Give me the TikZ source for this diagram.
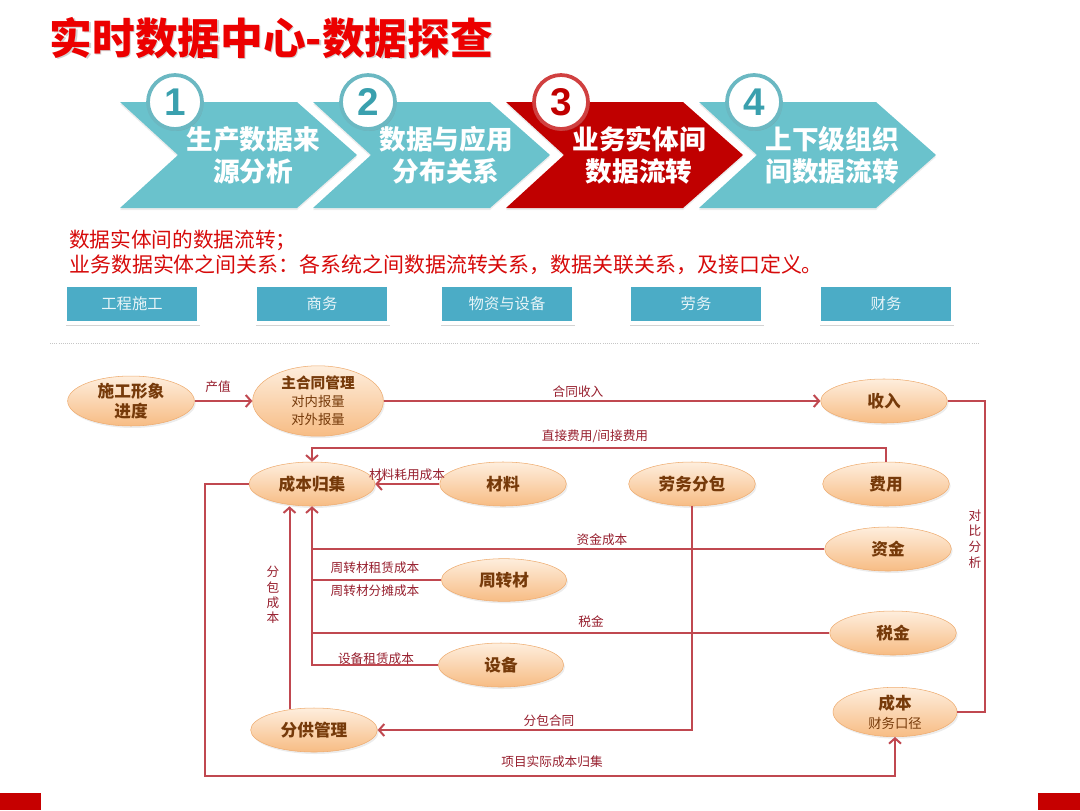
\documentclass[tikz,border=0pt]{standalone}
\usepackage{fontspec}
\setmainfont{Noto Sans CJK SC}
\newfontfamily\numfont{Liberation Sans}
\usetikzlibrary{calc,shapes.geometric,shadows,arrows.meta}

\definecolor{titlered}{RGB}{236,0,0}
\definecolor{chevteal}{RGB}{106,194,204}
\definecolor{chevred}{RGB}{192,0,0}
\definecolor{numteal}{RGB}{58,160,174}
\definecolor{tabblue}{RGB}{75,172,198}
\definecolor{notered}{RGB}{214,10,10}
\definecolor{linered}{RGB}{192,72,80}
\definecolor{labred}{RGB}{150,30,45}
\definecolor{ovaltop}{RGB}{254,238,221}
\definecolor{ovalbot}{RGB}{247,188,132}
\definecolor{ovalline}{RGB}{238,172,112}
\definecolor{ovaltext}{RGB}{118,58,10}

\newcommand{\ovalsub}[1]{{\fontsize{10}{13}\selectfont\mdseries #1}}

\tikzset{
  oval/.style={ellipse, draw=ovalline, top color=ovaltop, bottom color=ovalbot,
    minimum width=95pt, minimum height=33pt, inner sep=0pt, align=center,
    font=\fontsize{12.5}{14.5}\selectfont\bfseries, text=ovaltext,
    drop shadow={opacity=0.15, shadow xshift=1pt, shadow yshift=-1.5pt}},
  flow/.style={draw=linered, line width=1.5pt},
  arr/.style={flow, -{Straight Barb[length=4pt,width=9pt]}},
  lab/.style={font=\fontsize{9.5}{11.5}\selectfont, text=labred, inner sep=1pt, align=center},
  tabbox/.style={rectangle, fill=tabblue, draw=white, line width=3pt,
    minimum width=100pt, minimum height=29pt, inner sep=0pt,
    font=\fontsize{11.5}{13}\selectfont, text=white!88!tabblue,
    drop shadow={opacity=0.35, shadow xshift=0.8pt, shadow yshift=-2pt}},
  numring/.style={circle, fill=white, line width=2.8pt, minimum size=40.5pt, inner sep=0pt,
    font=\numfont\bfseries\fontsize{29}{30}\selectfont,
    drop shadow={opacity=0.3, shadow xshift=1pt, shadow yshift=-1.5pt}}
}

\begin{document}
\begin{tikzpicture}[x=0.75pt, y=-0.75pt]
  \useasboundingbox (0,0) rectangle (1080,810);

  % title
  \node[anchor=west, text=gray!35, font=\fontsize{32}{34}\selectfont\bfseries] (titleshadow) at (46.5,39.5) {实时数据中心-数据探查};
  \node[anchor=west, text=titlered, font=\fontsize{32}{34}\selectfont\bfseries] (title) at (45,38) {实时数据中心-数据探查};

  % step chevrons
  \foreach \i/\x/\c/\t in {1/120/chevteal/{生产数据来\\源分析}, 2/313/chevteal/{数据与应用\\分布关系},
                           3/506/chevred/{业务实体间\\数据流转}, 4/699/chevteal/{上下级组织\\间数据流转}} {
    \fill[\c, drop shadow={opacity=0.15, shadow xshift=0pt, shadow yshift=-1.5pt}]
      (\x,102) -- ++(177,0) -- ++(60,53) -- ++(-60,53) -- ++(-177,0) -- ++(58,-53) -- cycle;
    \node[text=white, align=center, font=\fontsize{20}{24}\selectfont\bfseries] (step\i) at (\x+133,155) {\t};
  }
  \foreach \i/\x/\c in {1/175/numteal, 2/368/numteal, 3/561/chevred, 4/754/numteal} {
    \node[numring, draw=\c!75, text=\c] (num\i) at (\x,102) {\i};
  }

  % notes
  \node[anchor=west, text=notered, font=\fontsize{15.5}{18}\selectfont, inner sep=0pt] (note1) at (69,240) {数据实体间的数据流转；};
  \node[anchor=west, text=notered, font=\fontsize{15.7}{18}\selectfont, inner sep=0pt] (note2) at (69,265) {业务数据实体之间关系：各系统之间数据流转关系，数据关联关系，及接口定义。};

  % system tabs
  \foreach \x/\t [count=\k] in {132/工程施工, 322/商务, 507/物资与设备, 696/劳务, 886/财务} {
    \node[tabbox] (tab\k) at (\x,304) {\t};
  }
  \draw[gray!45, densely dotted, line width=0.6pt] (50,343) -- (980,343);

  % entities
  \node[oval] (prog) at (131,401) {施工形象\\进度};
  \node[oval, minimum width=98pt, minimum height=51pt, font=\fontsize{11}{13.5}\selectfont\bfseries] (mainc) at (318,401) {主合同管理\\\ovalsub{对内报量}\\\ovalsub{对外报量}};
  \node[oval] (income) at (884,401) {收入};
  \node[oval, minimum width=94.5pt] (costc) at (312,484) {成本归集};
  \node[oval] (material) at (503,484) {材料};
  \node[oval] (labor) at (692,484) {劳务分包};
  \node[oval] (expense) at (886,484) {费用};
  \node[oval] (fund) at (888,549) {资金};
  \node[oval, minimum width=94pt, minimum height=32pt] (turnover) at (504,580) {周转材};
  \node[oval] (tax) at (893,633) {税金};
  \node[oval, minimum width=94pt] (equip) at (501,665) {设备};
  \node[oval] (subm) at (314,730) {分供管理};
  \node[oval, minimum width=93pt, minimum height=37pt] (cost) at (895,712) {成本\\\ovalsub{财务口径}};

  \coordinate (cmpR) at (985,401);
  \coordinate (botL) at (205,776);

  % flows
  \draw[arr] (prog.east) -- (mainc.west);
  \node[lab] (lbOut) at (218,387) {产值};
  \draw[arr] (mainc.east) -- (income.west);
  \node[lab] (lbInc) at (578,392) {合同收入};
  \draw[flow] (income.east) -| (cmpR) |- (cost.east);
  \node[lab, font=\fontsize{9.5}{11.8}\selectfont] (lbCmp) at (975,539) {对\\比\\分\\析};
  \draw[arr] (expense.north) -- ++(0,-14) -| (costc.north);
  \node[lab] (lbExp) at (595,436) {直接费用/间接费用};
  \draw[arr] (material.west) -- (costc.east);
  \node[lab] (lbMat) at (407,475) {材料耗用成本};

  % cost bus into 成本归集
  \draw[arr] (equip.west) -| (costc.south);
  \draw[flow] (fund.west) -- (fund.west -| costc.south);
  \draw[flow] (turnover.west) -- (turnover.west -| costc.south);
  \draw[flow] (tax.west) -- (tax.west -| costc.south);
  \node[lab] (lbFund) at (602,540) {资金成本};
  \node[lab] (lbTurn1) at (375,568) {周转材租赁成本};
  \node[lab] (lbTurn2) at (375,591) {周转材分摊成本};
  \node[lab] (lbTax) at (591,622) {税金};
  \node[lab] (lbEqp) at (376,659) {设备租赁成本};

  \draw[arr] (labor.south) |- (subm.east);
  \node[lab] (lbSub) at (549,721) {分包合同};
  \draw[arr] (subm.140) -- (subm.140 |- costc.south);
  \node[lab, font=\fontsize{9.5}{11.5}\selectfont] (lbSubC) at (273,595) {分\\包\\成\\本};
  \draw[arr] (costc.west) -| (botL) -| (cost.south);
  \node[lab] (lbAct) at (552,762) {项目实际成本归集};

  % corner bars
  \fill[chevred!90!red] (0,793) rectangle (41,810);
  \fill[chevred!90!red] (1038,793) rectangle (1080,810);
\end{tikzpicture}
\end{document}
